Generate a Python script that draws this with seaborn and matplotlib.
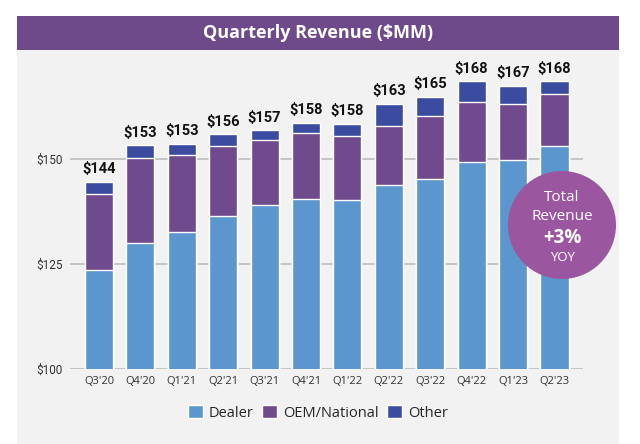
#quarterly revenue stacked bar chart, dealer / OEM-national / other, with a yoy callout bubble
import numpy as np
import pandas as pd
import matplotlib.pyplot as plt
import seaborn as sns
from matplotlib.patches import Patch, Rectangle, Circle

#values ($MM)
quarters = ["Q3'20", "Q4'20", "Q1'21", "Q2'21", "Q3'21", "Q4'21",
            "Q1'22", "Q2'22", "Q3'22", "Q4'22", "Q1'23", "Q2'23"]
dealer = [123.6, 130.1, 132.6, 136.5, 139.0, 140.4, 140.2, 143.7, 145.3, 149.2, 149.7, 153.1]
oem    = [18.0, 20.2, 18.3, 16.6, 15.5, 15.7, 15.2, 14.2, 14.9, 14.4, 13.5, 12.4]
other  = [3.0, 3.0, 2.7, 2.8, 2.3, 2.5, 3.0, 5.3, 4.6, 4.9, 4.2, 3.0]
total_labels = ["$144", "$153", "$153", "$156", "$157", "$158",
                "$158", "$163", "$165", "$168", "$167", "$168"]

df = pd.DataFrame({"quarter": quarters, "dealer": dealer, "oem": oem, "other": other})
df["dealer_oem"] = df["dealer"] + df["oem"]
df["total"] = df["dealer_oem"] + df["other"]

DEALER_C = "#5b96cf"
OEM_C    = "#6f4a8d"
OTHER_C  = "#3b4b9f"
HEADER_C = "#6f4a8b"
PANEL_C  = "#f2f2f2"
BUBBLE_C = "#9b56a0"

sns.set_style("white")
plt.rcParams["font.family"] = ["Roboto", "DejaVu Sans"]
title_font = ["Open Sans", "DejaVu Sans"]

fig = plt.figure(figsize=(6.4, 4.44), dpi=100)
W, H = 640, 444

#background layer in pixel coords (y down): gray panel + purple header
bg = fig.add_axes([0, 0, 1, 1], zorder=0)
bg.set_xlim(0, W)
bg.set_ylim(H, 0)
bg.axis("off")
bg.add_patch(Rectangle((17, 49), 602, H - 49, color=PANEL_C, lw=0))
bg.add_patch(Rectangle((17, 16), 602, 34, color=HEADER_C, lw=0))
bg.text(318, 33, "Quarterly Revenue ($MM)", color="white", fontsize=13,
        fontweight="bold", ha="center", va="center", family=title_font)

ax = fig.add_axes([70 / W, (H - 369) / H, 513 / W, 294 / H], zorder=1)
ax.set_facecolor("none")

#stacked bars drawn as overlapping cumulative totals
sns.barplot(data=df, x="quarter", y="total", color=OTHER_C, width=0.68,
            saturation=1, ax=ax, zorder=2)
sns.barplot(data=df, x="quarter", y="dealer_oem", color=OEM_C, width=0.68,
            saturation=1, ax=ax, zorder=3)
sns.barplot(data=df, x="quarter", y="dealer", color=DEALER_C, width=0.68,
            saturation=1, ax=ax, zorder=4)

ax.set_ylim(100, 170)
ax.set_xlim(-0.70, 11.69)
ax.set_yticks([100, 125, 150])
ax.set_yticklabels(["$100", "$125", "$150"])
ax.yaxis.grid(True, color="#bdbdbd", linewidth=1.2, zorder=0)
ax.set_axisbelow(True)
ax.tick_params(axis="both", length=0, labelsize=8.5, colors="#333333")
ax.tick_params(axis="x", pad=5)
ax.tick_params(axis="y", pad=5)
for t in ax.get_xticklabels():
    t.set_family(title_font)
    t.set_fontsize(8)
ax.set_xlabel("")
ax.set_ylabel("")
sns.despine(ax=ax, left=True, bottom=True, top=True, right=True)

#total value labels above each bar
for i, (tot, lab) in enumerate(zip(df["total"], total_labels)):
    ax.annotate(lab, (i, tot), xytext=(0, 4), textcoords="offset points",
                ha="center", va="bottom", fontsize=10.5, fontweight="bold",
                color="#111111", zorder=6)

#yoy bubble on an overlay layer so it sits above the bars
top = fig.add_axes([0, 0, 1, 1], zorder=2)
top.set_xlim(0, W)
top.set_ylim(H, 0)
top.axis("off")
top.patch.set_alpha(0)
top.add_patch(Circle((562, 225), 54, color=BUBBLE_C, lw=0))
top.text(562, 197, "Total", color="white", fontsize=11, ha="center", va="center", family=title_font)
top.text(562, 216, "Revenue", color="white", fontsize=11, ha="center", va="center", family=title_font)
top.text(562, 238, "+3%", color="white", fontsize=13.5, fontweight="bold",
         ha="center", va="center", family=title_font)
top.text(562, 257, "YOY", color="white", fontsize=9.5, ha="center", va="center", family=title_font)

handles = [Patch(facecolor=DEALER_C, label="Dealer"),
           Patch(facecolor=OEM_C, label="OEM/National"),
           Patch(facecolor=OTHER_C, label="Other")]
top.legend(handles=handles, loc="center", bbox_to_anchor=(318 / W, (H - 413) / H),
           bbox_transform=fig.transFigure, ncol=3, frameon=False,
           handlelength=1.0, handleheight=1.0, handletextpad=0.4, columnspacing=0.6,
           prop={"family": title_font, "size": 10.5})

fig.savefig("out.png", dpi=100)
